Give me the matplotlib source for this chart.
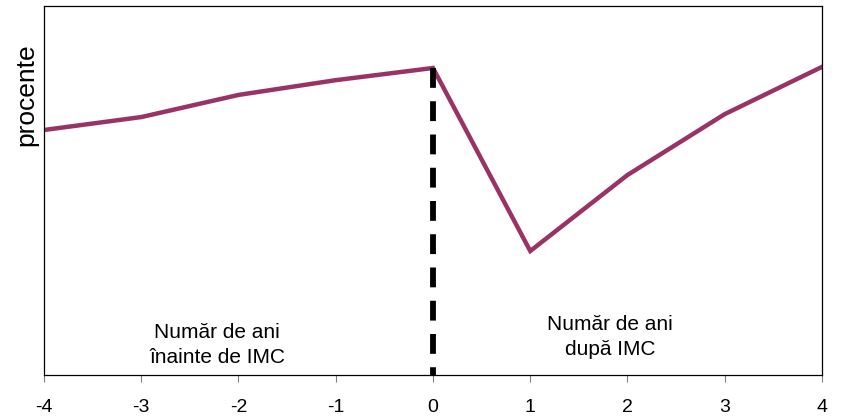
import matplotlib.pyplot as plt

plt.rcParams['font.family'] = ['Liberation Sans', 'DejaVu Sans']
plt.rcParams['axes.unicode_minus'] = False

years = [-4, -3, -2, -1, 0, 1, 2, 3, 4]
values = [66.4, 69.9, 75.9, 79.9, 83.2, 33.6, 54.2, 70.7, 83.5]
imc_year = 0
imc_value = 83.2


def main() -> None:
    fig = plt.figure(figsize=(8.42, 4.17), dpi=100)
    ax = fig.add_axes([44 / 842, 42 / 417, 778 / 842, 369 / 417])

    ax.plot(years, values, color='#993366', linewidth=3.2, solid_joinstyle='miter')
    # drawn top-down so the first dash starts at the peak
    ax.plot([imc_year, imc_year], [imc_value, 0], color='black', linewidth=4.2,
            dashes=(3.4, 2.3), solid_capstyle='butt')

    ax.text(-2.22, 8.1, 'Număr de ani\nînainte de IMC', ha='center', va='center',
            fontsize=15, linespacing=1.35)
    ax.text(1.82, 10.3, 'Număr de ani\ndupă IMC', ha='center', va='center',
            fontsize=15, linespacing=1.35)

    ax.set_xlim(-4, 4)
    ax.set_ylim(0, 100)
    ax.set_xticks(years)
    ax.set_yticks([])
    ax.tick_params(axis='x', length=5, color='#808080', labelsize=14, pad=12)
    ax.set_ylabel('procente', fontsize=19)
    ax.yaxis.set_label_coords(-0.007, 0.76)
    for s in ax.spines.values():
        s.set_linewidth(0.9)

    plt.savefig('out.png', dpi=100)


if __name__ == '__main__':
    main()
